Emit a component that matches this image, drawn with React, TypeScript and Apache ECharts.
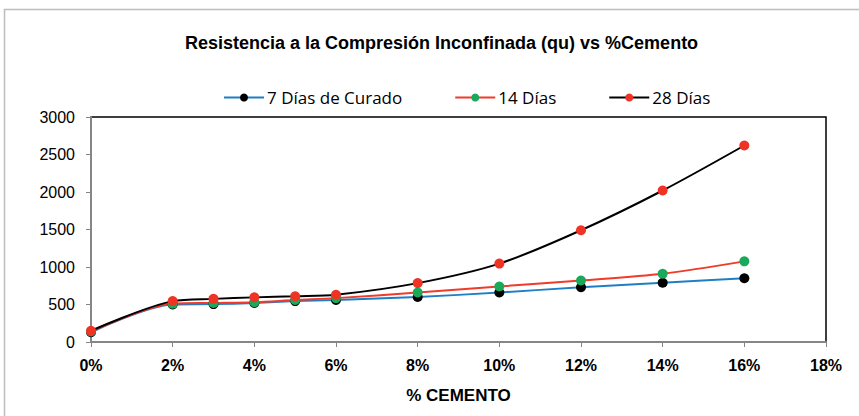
import React, { useEffect, useRef } from "react";
import * as echarts from "echarts";

const cementPct = [0, 2, 3, 4, 5, 6, 8, 10, 12, 14, 16];
const dias7 = [130, 500, 505, 520, 545, 560, 600, 660, 730, 790, 850];
const dias14 = [140, 510, 520, 530, 560, 585, 660, 740, 820, 910, 1075];
const dias28 = [150, 545, 575, 595, 610, 630, 785, 1045, 1490, 2020, 2620];
const seriesNames = ["7 Días de Curado", "14 Días", "28 Días"];

export default function App() {
  const ref = useRef<HTMLDivElement>(null);
  useEffect(() => {
    if (!ref.current) return;
    const chart = echarts.init(ref.current, null, { renderer: "svg" });
    const mk = (vals: number[]) => cementPct.map((x, i) => [x, vals[i]]);
    const mkSeries = (name: string, vals: number[], lineColor: string, markerColor: string) => ({
      name,
      type: "line",
      data: mk(vals),
      smooth: 0.3,
      symbol: "circle",
      symbolSize: 10,
      lineStyle: { color: lineColor, width: 2 },
      itemStyle: { color: markerColor },
    });
    chart.setOption({
      animation: false,
      backgroundColor: "#ffffff",
      title: {
        text: "Resistencia a la Compresión Inconfinada (qu) vs %Cemento",
        left: 180,
        top: 29,
        textStyle: { fontFamily: "Liberation Sans", fontWeight: "bold", fontSize: 18, color: "#000" },
      },
      legend: {
        top: 84,
        left: 218,
        itemWidth: 40,
        itemHeight: 10,
        itemGap: 52,
        textStyle: { fontFamily: "Open Sans", fontSize: 17, color: "#000", padding: [0, 0, 0, -2] },
        data: seriesNames,
      },
      graphic: [
        {
          type: "rect",
          shape: { x: 4.5, y: 9.5, width: 900, height: 500 },
          style: { fill: "none", stroke: "#bdbdbd", lineWidth: 1.5 },
          silent: true,
        },
      ],
      grid: {
        left: 91,
        right: 33,
        top: 117,
        bottom: 74,
        show: true,
        borderColor: "#000",
        borderWidth: 1.5,
      },
      xAxis: {
        type: "value",
        min: 0,
        max: 18,
        interval: 2,
        name: "% CEMENTO",
        nameLocation: "middle",
        nameGap: 45,
        nameTextStyle: { fontFamily: "Liberation Sans", fontWeight: "bold", fontSize: 17, color: "#000" },
        axisLine: { show: true, lineStyle: { color: "#868686", width: 2 } },
        axisTick: { show: true, length: 5, lineStyle: { color: "#868686" } },
        splitLine: { show: false },
        axisLabel: {
          formatter: (v: number) => `${v}%`,
          fontFamily: "Liberation Sans",
          fontWeight: "bold",
          fontSize: 16,
          color: "#000",
          margin: 15,
        },
      },
      yAxis: {
        type: "value",
        min: 0,
        max: 3000,
        interval: 500,
        axisLine: { show: true, lineStyle: { color: "#868686", width: 2 } },
        axisTick: { show: true, length: 5, lineStyle: { color: "#868686" } },
        splitLine: { show: false },
        axisLabel: {
          formatter: (v: number) => String(v),
          fontFamily: "Liberation Sans",
          fontSize: 16,
          color: "#000",
          margin: 16,
        },
      },
      series: [
        mkSeries(seriesNames[0], dias7, "#1f7fc4", "#000000"),
        mkSeries(seriesNames[1], dias14, "#f03a2a", "#1aa85a"),
        mkSeries(seriesNames[2], dias28, "#000000", "#ef3324"),
      ],
    });
    return () => chart.dispose();
  }, []);
  return (
    <div
      ref={ref}
      style={{ position: "fixed", left: 0, top: 0, width: 859, height: 416, background: "#fff" }}
    />
  );
}
